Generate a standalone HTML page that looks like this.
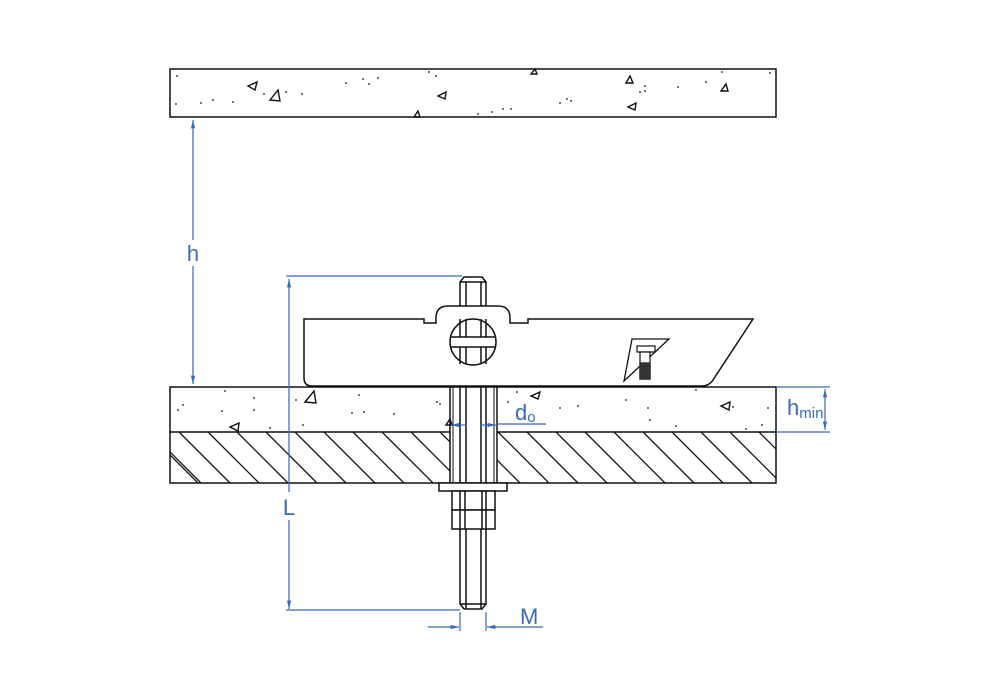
<!DOCTYPE html>
<html><head><style>body{margin:0;background:#fff}svg{display:block}</style></head><body>
<svg width="1000" height="700" viewBox="0 0 1000 700" xmlns="http://www.w3.org/2000/svg">
<defs>
<clipPath id="hl"><rect x="170" y="432" width="280" height="51"/></clipPath>
<clipPath id="hr"><rect x="497" y="432" width="279" height="51"/></clipPath>
<marker id="a" viewBox="0 0 12 10" refX="12" refY="5" markerWidth="12" markerHeight="7" markerUnits="userSpaceOnUse" orient="auto-start-reverse"><path d="M0,2 L12,5 L0,8 Z" fill="#3a6bb5"/></marker>
</defs>
<g fill="none" stroke="#111" stroke-width="1.5">
<rect x="170" y="69" width="606" height="48"/>
<rect x="170" y="387" width="606" height="96"/>
<line x1="170" y1="432" x2="776" y2="432"/>
<g clip-path="url(#hl)" stroke-width="1.3">
<path d="M150,432l51,51M179,432l51,51M208,432l51,51M237,432l51,51M266,432l51,51M295,432l51,51M324,432l51,51M353,432l51,51M382,432l51,51M411,432l51,51M440,432l51,51M170,455l28,28"/></g>
<g clip-path="url(#hr)" stroke-width="1.3">
<path d="M469,432l51,51M498,432l51,51M527,432l51,51M556,432l51,51M585,432l51,51M614,432l51,51M643,432l51,51M672,432l51,51M701,432l51,51M730,432l51,51M759,432l51,51"/></g>
<rect x="450" y="387" width="47" height="96" fill="#fff"/>
<line x1="453" y1="387" x2="453" y2="483" stroke-width="1"/>
<line x1="494" y1="387" x2="494" y2="483" stroke-width="1"/>
<path d="M304,319 H424 V323 H436 V318 Q436,306 448,306 H498 Q510,306 510,318 V323 H528 V319 H753 L713,380 Q709,386 702,386 H312 Q304,386 304,378 Z" fill="#fff"/>
<circle cx="473" cy="342" r="23"/>
<line x1="451" y1="337" x2="495" y2="337"/><line x1="451" y1="347" x2="495" y2="347"/>
<path d="M460,319 V337 M466,319 V337 M481,319 V337 M486,319 V337 M460,347 V364 M466,347 V364 M481,347 V364 M486,347 V364"/>
<path d="M460,306 V282 L464,277 H482 L486,282 V306 M466,306 V282 M481,306 V282 M460,282 H486"/>
<path d="M460,387 V483 M466,387 V483 M481,387 V483 M486,387 V483"/>
<rect x="439" y="483" width="68" height="8" fill="#fff"/>
<rect x="452" y="491" width="43" height="19" fill="#fff"/>
<rect x="452" y="510" width="43" height="19" fill="#fff"/>
<path d="M465,491 V529 M482,491 V529 M460,491 V529 M486,491 V529"/>
<path d="M460,529 V604 L464,609 H482 L486,604 V529 M466,529 V609 M481,529 V609 M460,604 H486"/>
<path d="M632,339 H669 L624,381 Z" stroke-width="1.3"/>
<rect x="637" y="346" width="18" height="6" fill="#fff" stroke-width="1.2"/>
<rect x="640" y="352" width="10" height="27" fill="#fff" stroke-width="1.2"/>
<rect x="640" y="363" width="10" height="16" fill="#333" stroke="#333"/>
<g stroke-width="1.4">
<path d="M248,86 l9,-4 -2,8z M270,100 l8,-10 2,11z M438,96 l8,-4 -1,7z M531,74 l4,-5 2,5z M626,83 l4,-7 3,7z M628,107 l8,-4 -1,7z M721,91 l5,-7 2,7z M414,117 l4,-6 2,6z"/>
<path d="M305,402 l9,-11 2,12z M531,396 l9,-4 -2,7z M721,406 l9,-4 -1,8z M230,427 l9,-4 -1,8z M446,425 l4,-6 2,6z"/>
</g>
</g>
<g fill="#111">
<circle cx="177" cy="76" r="0.9"/><circle cx="176" cy="104" r="0.9"/><circle cx="201" cy="103" r="0.9"/><circle cx="213" cy="100" r="0.9"/><circle cx="233" cy="102" r="0.9"/><circle cx="264" cy="94" r="0.9"/><circle cx="286" cy="92" r="0.9"/><circle cx="302" cy="94" r="0.9"/><circle cx="346" cy="83" r="0.9"/><circle cx="363" cy="79" r="0.9"/><circle cx="369" cy="84" r="0.9"/><circle cx="378" cy="78" r="0.9"/><circle cx="429" cy="72" r="0.9"/><circle cx="436" cy="76" r="0.9"/><circle cx="478" cy="114" r="0.9"/><circle cx="492" cy="112" r="0.9"/><circle cx="503" cy="109" r="0.9"/><circle cx="511" cy="109" r="0.9"/><circle cx="560" cy="103" r="0.9"/><circle cx="567" cy="99" r="0.9"/><circle cx="571" cy="101" r="0.9"/><circle cx="640" cy="92" r="0.9"/><circle cx="645" cy="86" r="0.9"/><circle cx="645" cy="91" r="0.9"/><circle cx="678" cy="87" r="0.9"/><circle cx="706" cy="82" r="0.9"/><circle cx="722" cy="72" r="0.9"/><circle cx="770" cy="73" r="0.9"/>
<circle cx="225" cy="391" r="0.9"/><circle cx="254" cy="398" r="0.9"/><circle cx="254" cy="410" r="0.9"/><circle cx="296" cy="400" r="0.9"/><circle cx="178" cy="410" r="0.9"/><circle cx="183" cy="405" r="0.9"/><circle cx="222" cy="411" r="0.9"/><circle cx="359" cy="395" r="0.9"/><circle cx="364" cy="412" r="0.9"/><circle cx="352" cy="413" r="0.9"/><circle cx="394" cy="414" r="0.9"/><circle cx="437" cy="402" r="0.9"/><circle cx="440" cy="404" r="0.9"/><circle cx="508" cy="402" r="0.9"/><circle cx="517" cy="392" r="0.9"/><circle cx="560" cy="408" r="0.9"/><circle cx="578" cy="406" r="0.9"/><circle cx="626" cy="400" r="0.9"/><circle cx="648" cy="408" r="0.9"/><circle cx="650" cy="420" r="0.9"/><circle cx="676" cy="426" r="0.9"/><circle cx="696" cy="390" r="0.9"/><circle cx="733" cy="407" r="0.9"/><circle cx="746" cy="429" r="0.9"/><circle cx="762" cy="425" r="0.9"/><circle cx="768" cy="408" r="0.9"/><circle cx="270" cy="428" r="0.9"/><circle cx="303" cy="425" r="0.9"/>
</g>
<g stroke="#3a6bb5" stroke-width="1.2" fill="none">
<line x1="193" y1="120" x2="193" y2="240" marker-start="url(#a)"/>
<line x1="193" y1="266" x2="193" y2="384" marker-end="url(#a)"/>
<line x1="286" y1="276" x2="462" y2="276"/>
<line x1="289" y1="279" x2="289" y2="492" marker-start="url(#a)"/>
<line x1="289" y1="520" x2="289" y2="609" marker-end="url(#a)"/>
<line x1="286" y1="610" x2="460" y2="610"/>
<line x1="460" y1="612" x2="460" y2="631"/><line x1="486" y1="612" x2="486" y2="631"/>
<line x1="428" y1="627" x2="459" y2="627" marker-end="url(#a)"/>
<line x1="543" y1="627" x2="487" y2="627" marker-end="url(#a)"/>
<line x1="451" y1="425" x2="467" y2="425" marker-start="url(#a)"/>
<line x1="480" y1="425" x2="496" y2="425" marker-end="url(#a)"/>
<line x1="497" y1="424" x2="546" y2="424"/>
<line x1="776" y1="387" x2="830" y2="387"/><line x1="776" y1="432" x2="830" y2="432"/>
<line x1="825" y1="389" x2="825" y2="430" marker-start="url(#a)" marker-end="url(#a)"/>
</g>
<g fill="#3a6bb5" font-family="Liberation Sans, sans-serif">
<text x="193" y="261" font-size="22" text-anchor="middle">h</text>
<text x="289" y="515" font-size="22" text-anchor="middle">L</text>
<text x="520" y="624" font-size="22">M</text>
<text x="515" y="420" font-size="22">d<tspan font-size="15" dy="2">o</tspan></text>
<text x="787" y="415" font-size="22">h<tspan font-size="15" dy="3">min</tspan></text>
</g>
</svg>
</body></html>
